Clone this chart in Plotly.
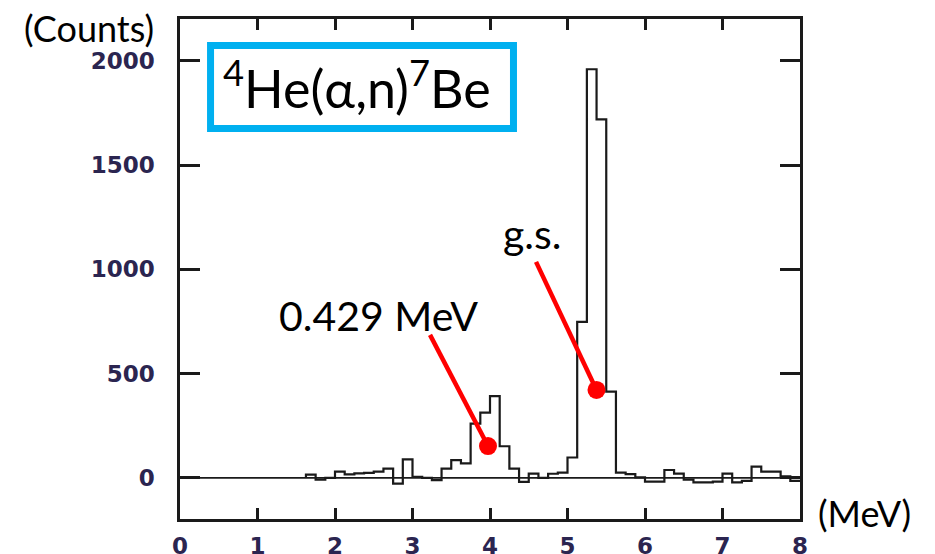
import plotly.graph_objects as go

# ---- data: neutron spectrum histogram (bin lower edges in MeV, counts) ----
bin_low_MeV = [1.625, 1.75, 1.875,
               2.0, 2.125, 2.25, 2.375, 2.5, 2.625, 2.75, 2.875,
               3.0, 3.125, 3.25, 3.375, 3.5, 3.625, 3.75, 3.875,
               4.0, 4.125, 4.25, 4.375, 4.5, 4.625, 4.75, 4.875,
               5.0, 5.125, 5.25, 5.375, 5.5, 5.625, 5.75, 5.875,
               6.0, 6.125, 6.25, 6.375, 6.5, 6.625, 6.75, 6.875,
               7.0, 7.125, 7.25, 7.375, 7.5, 7.625, 7.75, 7.875]
bin_high_end_MeV = 8.0
counts = [16, -8, 0,
          30, 17, 22, 24, 30, 45, -27, 89,
          5, 0, -11, 45, 85, 70, 260, 313,
          392, 152, 45, -19, 21, 0, 20, 25,
          98, 748, 1960, 1720, 414, 25, 18, 3,
          -18, -18, 38, 21, -8, -21, -21, -18,
          21, -21, -14, 54, 30, 30, 8, -14]

x_ticks = [0, 1, 2, 3, 4, 5, 6, 7, 8]
y_ticks = [0, 500, 1000, 1500, 2000]

# annotation pointers: (label start) -> (peak point)
ptr_excited = dict(x=[3.226, 3.974], y=[686, 153])
ptr_gs = dict(x=[4.594, 5.374], y=[1036, 422])

# ---- build step outline ----
step_x = [bin_low_MeV[0]] + bin_low_MeV + [bin_high_end_MeV]
step_y = [0] + counts + [counts[-1]]

fig = go.Figure()

# zero baseline
fig.add_shape(type="line", xref="x", yref="y", x0=0, x1=8, y0=0, y1=0,
              line=dict(color="#1a1a1a", width=1.6), layer="below")

fig.add_trace(go.Scatter(x=step_x, y=step_y, mode="lines", line_shape="hv",
                         line=dict(color="#1a1a1a", width=2.2),
                         hoverinfo="skip", showlegend=False))

for p in (ptr_excited, ptr_gs):
    fig.add_trace(go.Scatter(x=p["x"], y=p["y"], mode="lines",
                             line=dict(color="#ff0000", width=4.5),
                             showlegend=False, hoverinfo="skip", cliponaxis=False))
    fig.add_trace(go.Scatter(x=[p["x"][1]], y=[p["y"][1]], mode="markers",
                             marker=dict(color="#ff0000", size=18),
                             showlegend=False, hoverinfo="skip", cliponaxis=False))

# title box
fig.add_shape(type="rect", xref="x", yref="y", x0=0.394, x1=4.303, y0=1676, y1=2074,
              line=dict(color="#00b0f0", width=7), fillcolor="rgba(0,0,0,0)")

txt_font = dict(family="Lato", color="black")
fig.add_annotation(x=2.28, y=1888, xref="x", yref="y",
                   xanchor="center", yanchor="middle",
                   text="<sup>4</sup>He(α,n)<sup>7</sup>Be", showarrow=False,
                   font=dict(size=52, **txt_font))
fig.add_annotation(x=2.555, y=780, xref="x", yref="y", text="0.429 MeV",
                   xanchor="center", yanchor="middle",
                   showarrow=False, font=dict(size=41, **txt_font))
fig.add_annotation(x=4.54, y=1170, xref="x", yref="y", text="g.s.",
                   xanchor="center", yanchor="middle",
                   showarrow=False, font=dict(size=41, **txt_font))
fig.add_annotation(x=-0.1468, y=0.982, xref="paper", yref="paper", text="(Counts)",
                   xanchor="center", yanchor="middle",
                   showarrow=False, font=dict(size=36, **txt_font))
fig.add_annotation(x=1.1048, y=0.012, xref="paper", yref="paper", text="(MeV)",
                   xanchor="center", yanchor="middle",
                   showarrow=False, font=dict(size=36, **txt_font))

tick_font = dict(family="DejaVu Sans", size=23, color="#2b2550", weight="bold")
axis_common = dict(showline=True, linecolor="#1a1a1a", linewidth=2.5, mirror="ticks",
                   ticks="inside", tickcolor="#1a1a1a", tickwidth=2.5,
                   showgrid=False, zeroline=False, tickfont=tick_font,
                   automargin=False)

fig.update_xaxes(range=[0, 8], tickvals=x_ticks, ticklen=11,
                 ticklabelstandoff=5, **axis_common)
fig.update_yaxes(range=[-197, 2201], tickvals=y_ticks, ticklen=20,
                 ticklabelstandoff=18, **axis_common)

fig.update_layout(width=935, height=554, margin=dict(l=180, r=135, t=19, b=35),
                  plot_bgcolor="white", paper_bgcolor="white", showlegend=False)

fig.write_html("out.html")
